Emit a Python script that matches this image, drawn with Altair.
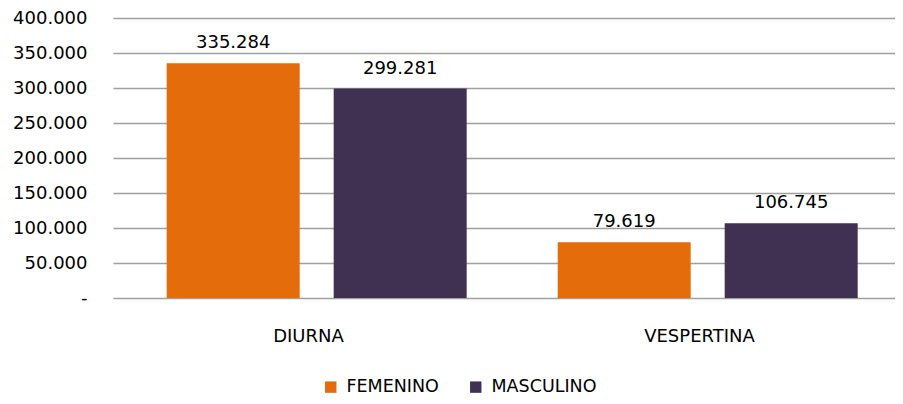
import altair as alt
import pandas as pd

turnos = ["DIURNA", "DIURNA", "VESPERTINA", "VESPERTINA"]
sexos = ["FEMENINO", "MASCULINO", "FEMENINO", "MASCULINO"]
valores = [335284, 299281, 79619, 106745]

df = pd.DataFrame({"turno": turnos, "sexo": sexos, "valor": valores})

FONT = "DejaVu Sans"
colors = ["#E46C0A", "#403152"]

base = alt.Chart(df).encode(
    x=alt.X("turno:N", title=None, sort=["DIURNA", "VESPERTINA"],
            scale=alt.Scale(paddingInner=0, paddingOuter=0),
            axis=alt.Axis(labelAngle=0, ticks=False, domain=False, labelPadding=29,
                          labelFont=FONT, labelFontSize=18, labelColor="#000000")),
    xOffset=alt.XOffset("sexo:N", sort=["FEMENINO", "MASCULINO"],
                        scale=alt.Scale(paddingInner=0.2036, paddingOuter=0.2725, align=0.59)),
    y=alt.Y("valor:Q", title=None,
            scale=alt.Scale(domain=[0, 400000]),
            axis=alt.Axis(values=list(range(0, 400001, 50000)), ticks=False, domain=False,
                          labelPadding=26, labelFont=FONT, labelFontSize=18, labelColor="#000000",
                          gridColor="#A0A0A0", gridWidth=1.5,
                          labelExpr="datum.value == 0 ? '-' : replace(format(datum.value, ','), ',', '.')")),
)

bars = base.mark_bar().encode(
    color=alt.Color("sexo:N", sort=["FEMENINO", "MASCULINO"],
                    scale=alt.Scale(domain=["FEMENINO", "MASCULINO"], range=colors),
                    legend=alt.Legend(title=None, orient="none", direction="horizontal",
                                      legendX=209, legendY=360,
                                      symbolType="square", symbolSize=130, symbolStrokeWidth=0,
                                      labelOffset=7,
                                      labelFont=FONT, labelFontSize=17.5, labelColor="#000000",
                                      columnPadding=28))
)

labels = base.mark_text(baseline="bottom", dy=-11, font=FONT, fontSize=18, color="#000000").transform_calculate(
    txt="replace(format(datum.valor, ','), ',', '.')"
).encode(text="txt:N")

chart = (bars + labels).properties(
    width=782, height=280,
    autosize=alt.AutoSizeParams(type="none"),
    padding={"top": 10, "left": 105, "right": 0, "bottom": 98},
).configure_view(stroke=None).configure_axisX(grid=False)

chart.save("out.html", embed_options={"renderer": "svg", "actions": False})
